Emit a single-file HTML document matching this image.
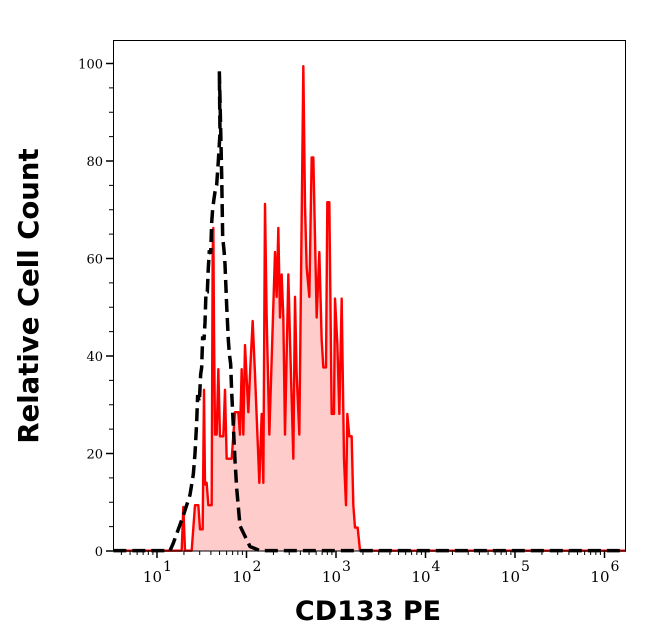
<!DOCTYPE html>
<html><head><meta charset="utf-8"><style>
html,body{margin:0;padding:0;background:#fff;}
svg{display:block;}
text{font-family:"DejaVu Serif","Liberation Serif",serif;}
</style></head><body>
<svg id="s" width="646" height="641" viewBox="0 0 646 641" xmlns="http://www.w3.org/2000/svg">
<rect x="0" y="0" width="646" height="641" fill="#fff"/>
<g transform="translate(60,30) scale(0.33333,0.34435)">
<polygon fill="#ffcccc" points="160,1512 365,1512 370,1385 375,1512 395,1512 405,1380 415,1380 420,1450 428,1450 432,1045 435,1320 440,1315 445,1380 455,1380 458,645 460,575 462,870 465,1175 470,1175 475,985 480,1180 490,1180 495,1045 500,1245 515,1245 525,1110 535,1110 540,1175 545,985 550,1175 555,915 565,1110 570,1000 578,845 585,1000 598,1315 605,1115 610,1315 615,505 620,835 628,1175 645,645 650,775 655,575 660,835 665,710 670,835 675,1175 685,710 690,900 700,1245 705,775 710,1000 718,1175 730,105 735,510 740,690 748,775 755,370 760,370 770,835 778,645 785,900 790,980 798,980 802,500 808,500 815,1115 822,1115 825,780 832,910 838,1115 845,780 852,1245 858,1380 862,1115 868,1180 875,1180 880,1380 885,1445 893,1445 900,1512"/>
<polyline fill="none" stroke="#ff0000" stroke-width="2.4" vector-effect="non-scaling-stroke" stroke-linejoin="round" points="160,1512 365,1512 370,1385 375,1512 395,1512 405,1380 415,1380 420,1450 428,1450 432,1045 435,1320 440,1315 445,1380 455,1380 458,645 460,575 462,870 465,1175 470,1175 475,985 480,1180 490,1180 495,1045 500,1245 515,1245 525,1110 535,1110 540,1175 545,985 550,1175 555,915 565,1110 570,1000 578,845 585,1000 598,1315 605,1115 610,1315 615,505 620,835 628,1175 645,645 650,775 655,575 660,835 665,710 670,835 675,1175 685,710 690,900 700,1245 705,775 710,1000 718,1175 730,105 735,510 740,690 748,775 755,370 760,370 770,835 778,645 785,900 790,980 798,980 802,500 808,500 815,1115 822,1115 825,780 832,910 838,1115 845,780 852,1245 858,1380 862,1115 868,1180 875,1180 880,1380 885,1445 893,1445 900,1512 1698,1512"/>
<polyline fill="none" stroke="#000" stroke-width="3.5" vector-effect="non-scaling-stroke" stroke-dasharray="13,6" points="160,1512 330,1512 340,1490 370,1410 390,1350 400,1290 405,1230 410,1140 413,1060 418,1080 422,1000 425,980 428,890 432,900 435,850 438,760 442,760 445,690 448,640 452,650 455,560 458,520 462,490 465,470 470,450 475,380 480,300 478,120 480,200 485,420 488,600 492,640 495,680 500,800 505,900 508,940 512,970 515,1050 520,1150 525,1250 530,1330 540,1440 550,1460 570,1500 600,1512 1698,1512"/>
</g>
<g id="ax" stroke="#000" stroke-width="1" fill="none">
<rect x="113.5" y="40.5" width="512" height="510.5"/>
</g>
<g id="lab" font-size="13" fill="#000"></g>
<text x="368" y="620" text-anchor="middle" font-weight="bold" font-size="27" style="font-family:'DejaVu Sans',sans-serif">CD133 PE</text>
<text transform="translate(38,296) rotate(-90)" text-anchor="middle" font-weight="bold" font-size="27.5" style="font-family:'DejaVu Sans',sans-serif">Relative Cell Count</text>
</svg>
<script>
var ax=document.getElementById('ax'),lab=document.getElementById('lab'),ns='http://www.w3.org/2000/svg';
function ln(x1,y1,x2,y2,w){var l=document.createElementNS(ns,'line');l.setAttribute('x1',x1);l.setAttribute('y1',y1);l.setAttribute('x2',x2);l.setAttribute('y2',y2);l.setAttribute('stroke-width',w||1);ax.appendChild(l);}
function tx(x,y,s,a,fs){var t=document.createElementNS(ns,'text');t.setAttribute('x',x);t.setAttribute('y',y);t.setAttribute('text-anchor',a);if(fs)t.setAttribute('font-size',fs);t.textContent=s;lab.appendChild(t);return t;}
for(var v=0;v<=100;v+=5){var y=551-v*4.875;if(v%20==0){ln(106,y,113,y,1.5);tx(103,y+5,String(v),'end');}else ln(109,y,113,y);}
function X(l){return 157+(l-1)*89.5;}
for(var d=0;d<=6;d++){for(var k=1;k<10;k++){var l=d+Math.log10(k);var x=X(l);if(x<114||x>626)continue;if(k==1){ln(x,551,x,558,1.5);}else ln(x,551,x,555);}}
for(var d=1;d<=6;d++){var x=X(d);tx(x+5,582,'10','end',15);tx(x+6,571,String(d),'start',14);}
</script>
</body></html>
